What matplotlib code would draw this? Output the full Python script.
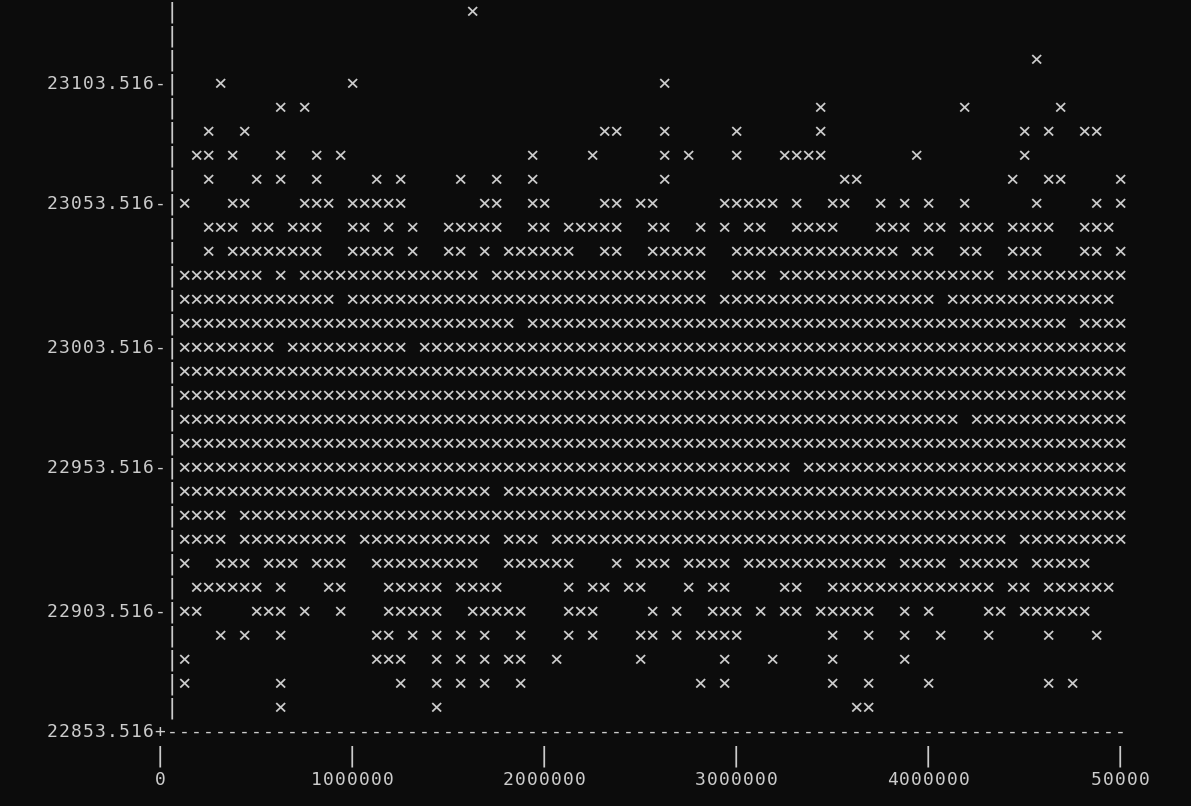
import numpy as np
import matplotlib
matplotlib.use("Agg")
import matplotlib.pyplot as plt

# terminal scatter plot: x in steps of 62500 per column, y in bins of 250/27
X_STEP = 62500.0
Y0 = 22853.516
DY = 250.0 / 27.0
N_ROWS = 30  # data rows above the x axis line

x_ticks = [0, 1000000, 2000000, 3000000, 4000000, 5000000]
x_tick_labels = ["0", "1000000", "2000000", "3000000", "4000000", "50000"]
y_ticks = [23103.516, 23053.516, 23003.516, 22953.516, 22903.516]
y_axis_label = "22853.516"

# occupied columns per row (top row first), as (first, last) runs
row_runs = [
    [(26, 26)],
    [],
    [(73, 73)],
    [(5, 5), (16, 16), (42, 42)],
    [(10, 10), (12, 12), (55, 55), (67, 67), (75, 75)],
    [(4, 4), (7, 7), (37, 38), (42, 42), (48, 48), (55, 55), (72, 72), (74, 74), (77, 78)],
    [(3, 4), (6, 6), (10, 10), (13, 13), (15, 15), (31, 31), (36, 36), (42, 42), (44, 44),
     (48, 48), (52, 55), (63, 63), (72, 72)],
    [(4, 4), (8, 8), (10, 10), (13, 13), (18, 18), (20, 20), (25, 25), (28, 28), (31, 31),
     (42, 42), (57, 58), (71, 71), (74, 75), (80, 80)],
    [(2, 2), (6, 7), (12, 14), (16, 20), (27, 28), (31, 32), (37, 38), (40, 41), (47, 51),
     (53, 53), (56, 57), (60, 60), (62, 62), (64, 64), (67, 67), (73, 73), (78, 78), (80, 80)],
    [(4, 6), (8, 9), (11, 13), (16, 17), (19, 19), (21, 21), (24, 28), (31, 32), (34, 38),
     (41, 42), (45, 45), (47, 47), (49, 50), (53, 56), (60, 62), (64, 65), (67, 69), (71, 74),
     (77, 79)],
    [(4, 4), (6, 13), (16, 19), (21, 21), (24, 25), (27, 27), (29, 34), (37, 38), (41, 45),
     (48, 61), (63, 64), (67, 68), (71, 73), (77, 78), (80, 80)],
    [(2, 8), (10, 10), (12, 26), (28, 45), (48, 50), (52, 69), (71, 80)],
    [(2, 14), (16, 45), (47, 64), (66, 79)],
    [(2, 29), (31, 75), (77, 80)],
    [(2, 9), (11, 20), (22, 80)],
    [(2, 80)],
    [(2, 80)],
    [(2, 66), (68, 80)],
    [(2, 80)],
    [(2, 52), (54, 80)],
    [(2, 27), (29, 80)],
    [(2, 5), (7, 80)],
    [(2, 5), (7, 15), (17, 27), (29, 31), (33, 70), (72, 80)],
    [(2, 2), (5, 7), (9, 11), (13, 15), (18, 26), (29, 34), (38, 38), (40, 42), (44, 47),
     (49, 60), (62, 65), (67, 71), (73, 77)],
    [(3, 8), (10, 10), (14, 15), (19, 23), (25, 28), (34, 34), (36, 37), (39, 40), (44, 44),
     (46, 47), (52, 53), (56, 69), (71, 72), (74, 79)],
    [(2, 3), (8, 10), (12, 12), (15, 15), (19, 23), (26, 30), (34, 36), (41, 41), (43, 43),
     (46, 48), (50, 50), (52, 53), (55, 59), (62, 62), (64, 64), (69, 70), (72, 77)],
    [(5, 5), (7, 7), (10, 10), (18, 19), (21, 21), (23, 23), (25, 25), (27, 27), (30, 30),
     (34, 34), (36, 36), (40, 41), (43, 43), (45, 48), (56, 56), (59, 59), (62, 62), (65, 65),
     (69, 69), (74, 74), (78, 78)],
    [(2, 2), (18, 20), (23, 23), (25, 25), (27, 27), (29, 30), (33, 33), (40, 40), (47, 47),
     (51, 51), (56, 56), (62, 62)],
    [(2, 2), (10, 10), (20, 20), (23, 23), (25, 25), (27, 27), (30, 30), (45, 45), (47, 47),
     (56, 56), (59, 59), (64, 64), (74, 74), (76, 76)],
    [(10, 10), (23, 23), (58, 59)],
]

BG = "#0c0c0c"
FG = "#cccccc"
FONT = "DejaVu Sans Mono"
FS = 13


def row_y(r):
    return Y0 + (N_ROWS - r) * DY


def put(ax, col, r, s, size=FS):
    # write a string one character per terminal cell
    for i, ch in enumerate(s):
        if ch != " ":
            ax.text((col + i) * X_STEP, row_y(r), ch, ha="center", va="center",
                    color=FG, fontsize=size, family=FONT)


# points from the runs
xs, ys = [], []
for r, runs in enumerate(row_runs):
    for a, b in runs:
        cols = np.arange(a, b + 1)
        xs.extend(cols * X_STEP)
        ys.extend([row_y(r)] * len(cols))

fig = plt.figure(figsize=(11.91, 8.06), dpi=100, facecolor=BG)
ax = fig.add_axes([0, 0, 1, 1])
ax.set_facecolor(BG)
ax.axis("off")
# 12 px per column, column 0 at px 160; 24 px per row, row 0 at px 12
ax.set_xlim(-160 / 12 * X_STEP, (1191 - 160) / 12 * X_STEP)
ax.set_ylim(Y0 - 74 / 24 * DY, Y0 + 732 / 24 * DY)

for x, y in zip(xs, ys):
    ax.text(x, y, "\u00d7", ha="center", va="center", color=FG, fontsize=16,
            family=FONT)

# y axis
for r in range(N_ROWS):
    put(ax, 1, r, "|", size=15)
for v in y_ticks:
    r = N_ROWS - int(round((v - Y0) / DY))
    lab = "%.3f-" % v
    put(ax, 1 - len(lab), r, lab)

# x axis line
lab = y_axis_label + "+"
put(ax, 1 - len(lab), N_ROWS, lab)
put(ax, 1, N_ROWS, "-" * 80)

for t, lab in zip(x_ticks, x_tick_labels):
    c = int(round(t / X_STEP))
    put(ax, c, N_ROWS + 1, "|", size=15)
    put(ax, c - (len(lab) - 1) // 2, N_ROWS + 2, lab)

fig.savefig("out.png", dpi=100, facecolor=BG)
